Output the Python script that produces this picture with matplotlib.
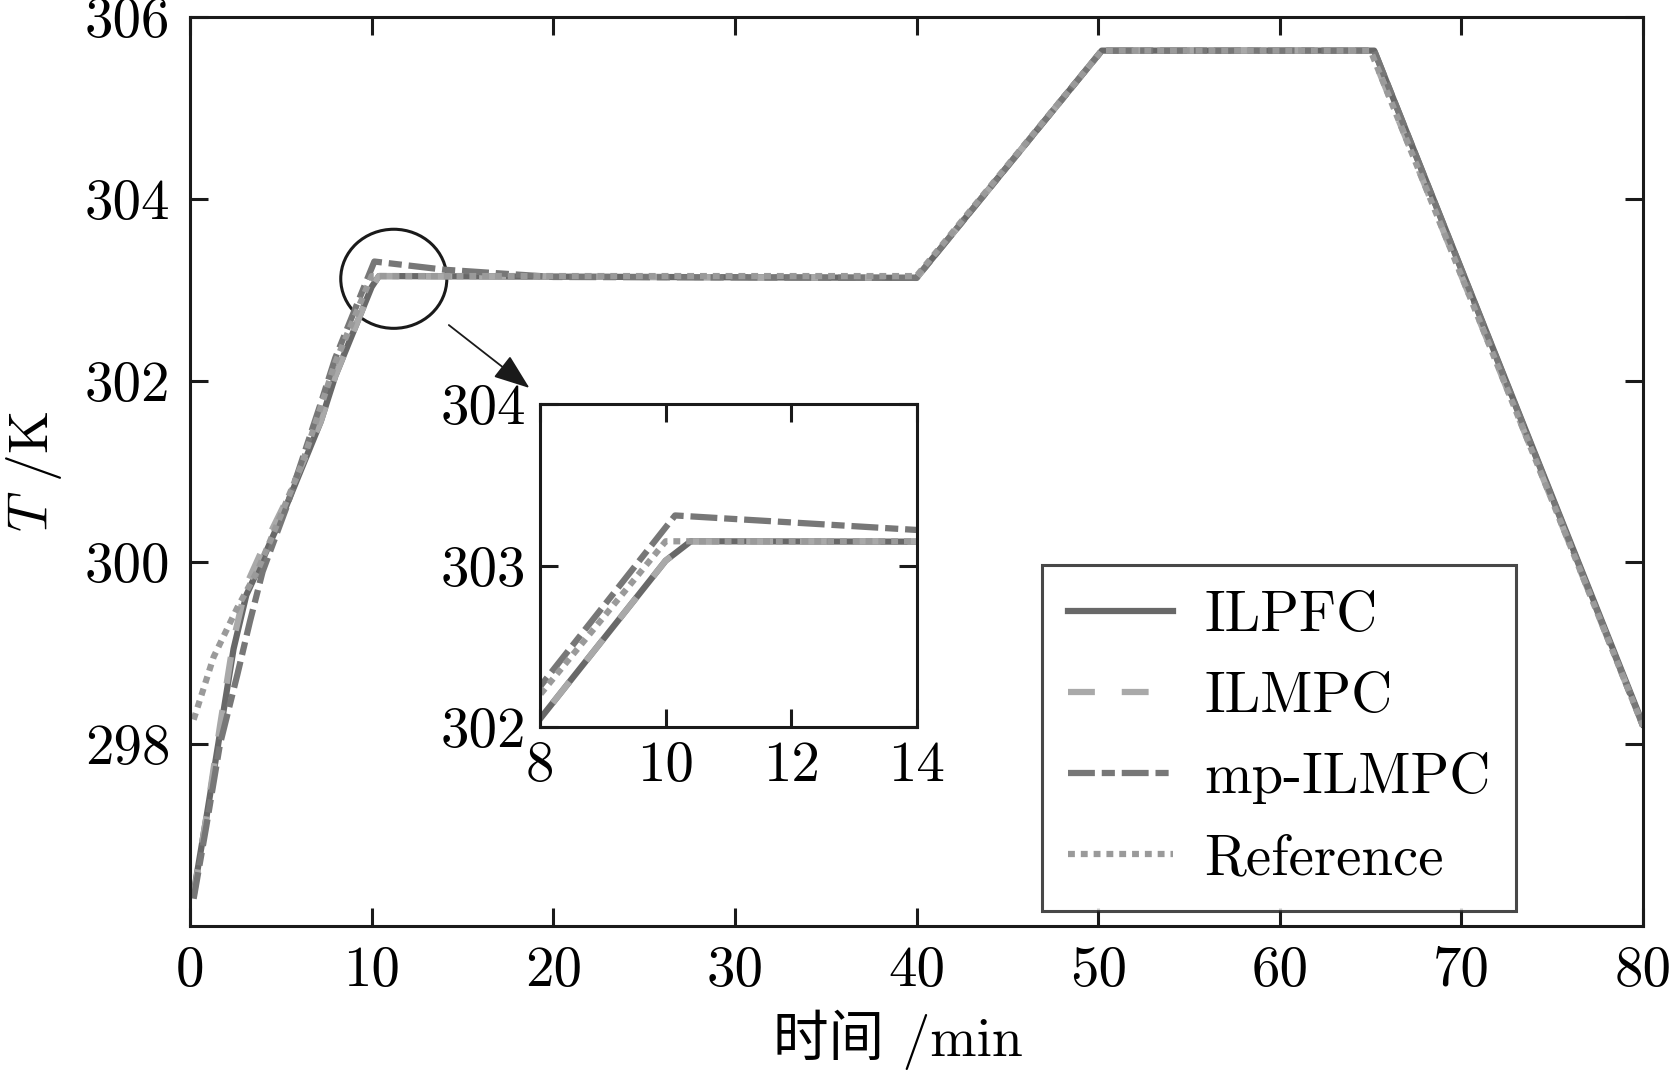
import matplotlib
matplotlib.use("Agg")
import matplotlib.pyplot as plt
from matplotlib.patches import Ellipse
import numpy as np

plt.rcParams['font.family'] = ['cmr10', 'Noto Sans CJK SC', 'DejaVu Sans']
plt.rcParams['mathtext.fontset'] = 'cm'
plt.rcParams['axes.unicode_minus'] = False

# ---------------- data ----------------
t_ilpfc = [0.2, 0.9, 1.65, 2.4, 3.1, 4.0, 5.3, 7.2, 8.0, 10.0, 10.4, 40.0, 50.2, 65.2, 80.0]
T_ilpfc = [296.36, 297.19, 298.12, 299.05, 299.64, 300.03, 300.62, 301.55, 302.05, 303.03, 303.15, 303.13, 305.63, 305.63, 298.22]

t_ilmpc = [0.2, 0.9, 1.65, 2.4, 3.1, 4.0, 5.3, 7.2, 8.0, 10.0, 10.4, 40.0, 50.2, 65.0, 80.0]
T_ilmpc = [296.33, 297.2, 298.2, 299.15, 299.75, 300.15, 300.68, 301.55, 302.05, 303.03, 303.15, 303.13, 305.63, 305.63, 298.2]

t_mp = [0.2, 0.9, 1.65, 2.6, 3.3, 4.0, 5.3, 7.2, 8.0, 10.15, 14.0, 20.0, 40.0, 50.2, 65.2, 80.0]
T_mp = [296.3, 297.1, 298.0, 298.76, 299.35, 299.9, 300.6, 301.75, 302.25, 303.31, 303.22, 303.14, 303.13, 305.63, 305.63, 298.2]

t_ref = [0.2, 1.3, 2.6, 3.7, 4.4, 6.2, 8.0, 10.0, 40.0, 50.2, 65.0, 80.0]
T_ref = [298.27, 298.96, 299.5, 299.9, 300.23, 301.1, 302.2, 303.15, 303.15, 305.63, 305.63, 298.2]

labels = ['ILPFC', 'ILMPC', 'mp-ILMPC', 'Reference']

xticks = [0, 10, 20, 30, 40, 50, 60, 70, 80]
yticks = [298, 300, 302, 304, 306]

# ---------------- styles ----------------
lw = 4.5
styles = [
    dict(color='#686868', linestyle='-'),
    dict(color='#a9a9a9', linestyle=(0, (4.3, 4.3))),
    dict(color='#777777', linestyle=(0, (4.3, 1.1, 2.1, 1.1))),
    dict(color='#9a9a9a', linestyle=(0, (1.1, 0.95))),
]
series = [(t_ilpfc, T_ilpfc), (t_ilmpc, T_ilmpc), (t_mp, T_mp), (t_ref, T_ref)]

fig = plt.figure(figsize=(16.73, 10.74), dpi=100)
ax = fig.add_axes([0.11357, 0.13780, 0.86850, 0.84637])

for (t, T), lab, st in zip(series, labels, styles):
    ax.plot(t, T, lw=lw, label=lab, **st)

ax.set_xlim(0, 80)
ax.set_ylim(296, 306)
ax.set_xticks(xticks)
ax.set_yticks(yticks)
ax.tick_params(direction='in', length=13, width=2.2, labelsize=41, pad=14,
               top=True, right=True, color='#1a1a1a')
for s in ax.spines.values():
    s.set_linewidth(2.2)
    s.set_color('#1a1a1a')

ax.set_xlabel('时间 /min', fontsize=40)
ax.xaxis.set_label_coords(0.487, -0.092)
ax.set_ylabel('$T$ /K', fontsize=40, labelpad=15)

leg = ax.legend(loc='upper left', bbox_to_anchor=(0.5864, 0.397), borderaxespad=0,
                fontsize=41, frameon=True, fancybox=False, edgecolor='#1a1a1a',
                handlelength=1.85, handletextpad=0.55, labelspacing=0.52,
                borderpad=0.45)
leg.get_frame().set_linewidth(2.2)

# circle on the main plot and arrow to the inset
ax.add_patch(Ellipse((11.22, 303.12), 5.84, 1.09, fill=False, lw=2.2, ec='#1a1a1a'))
ax.annotate('', xy=(18.81, 301.90), xytext=(14.13, 302.63),
            arrowprops=dict(arrowstyle='-|>,head_length=0.75,head_width=0.28',
                            color='#1a1a1a', lw=1.3, mutation_scale=30))

# inset
axi = fig.add_axes([0.32277, 0.32309, 0.22534, 0.30074])
for (t, T), st in zip(series, styles):
    axi.plot(t, T, lw=lw, **st)
axi.set_xlim(8, 14)
axi.set_ylim(302, 304)
axi.set_xticks([8, 10, 12, 14])
axi.set_yticks([302, 303, 304])
axi.tick_params(direction='in', length=13, width=2.2, labelsize=41, pad=10,
                top=True, right=True, color='#1a1a1a')
for s in axi.spines.values():
    s.set_linewidth(2.2)
    s.set_color('#1a1a1a')

fig.savefig('out.png', dpi=100)
